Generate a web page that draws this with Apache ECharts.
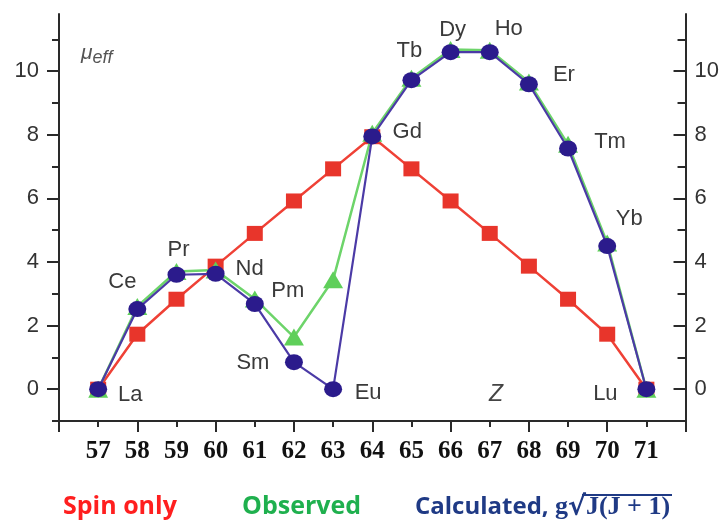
<!DOCTYPE html>
<html><head><meta charset="utf-8">
<script src="https://cdn.jsdelivr.net/npm/echarts@6/dist/echarts.min.js"></script>
<style>html,body{margin:0;padding:0;background:#fff}#c{width:722px;height:520px}</style>
</head><body><div id="c"></div>
<script>
// ---- data ----
const Z = [57, 58, 59, 60, 61, 62, 63, 64, 65, 66, 67, 68, 69, 70, 71];
const elements = ['La', 'Ce', 'Pr', 'Nd', 'Pm', 'Sm', 'Eu', 'Gd', 'Tb', 'Dy', 'Ho', 'Er', 'Tm', 'Yb', 'Lu'];
const spinOnly = [0, 1.73, 2.83, 3.87, 4.90, 5.92, 6.93, 7.94, 6.93, 5.92, 4.90, 3.87, 2.83, 1.73, 0];
const observed = [0, 2.6, 3.7, 3.75, 2.84, 1.64, 3.44, 8.05, 9.78, 10.68, 10.66, 9.66, 7.7, 4.6, 0];
const calculated = [0, 2.52, 3.60, 3.63, 2.68, 0.85, 0, 7.95, 9.72, 10.60, 10.60, 9.59, 7.57, 4.50, 0];
const yMajorTicks = [0, 2, 4, 6, 8, 10];
const yMinorTicksLeft = [-1, 1, 3, 5, 7, 9, 11];
const yMinorTicksRight = [1, 3, 5, 7, 9, 11];
const xTickLabels = [57, 58, 59, 60, 61, 62, 63, 64, 65, 66, 67, 68, 69, 70, 71];
const xMajorTicks = [56, 58, 60, 62, 64, 66, 68, 70, 72];
const xMinorTicks = [57, 59, 61, 63, 65, 67, 69, 71];
const seriesNames = ['Spin only', 'Observed', 'Calculated'];

// ---- layout / style config ----
const labelOffsets = [[32, 6], [-15, -27], [2, -25], [34, -5], [33, -13], [-41, 1], [35, 4], [35, -4],
  [-2, -29], [2, -22], [19, -23], [35, -9], [42, -7], [22, -27], [-41, 5]];
const SYM = [18, 16];
const Y_MIN = -1, Y_MAX = 11.8, X_MIN = 56, X_MAX = 72;
const axisColor = '#2a2a2a';
const navy = '#1f3a85';

const pairs = vals => Z.map((z, i) => [z, vals[i]]);

const chart = echarts.init(document.getElementById('c'), null, {renderer: 'canvas'});

const yBase = {type: 'value', min: Y_MIN, max: Y_MAX, splitLine: {show: false}};
const xBase = {type: 'value', min: X_MIN, max: X_MAX, splitLine: {show: false}};

const legendCommon = {
  top: 494, itemWidth: 0, itemHeight: 0, icon: 'none', selectedMode: false, padding: 0,
  textStyle: {fontFamily: 'Open Sans', fontWeight: 'bold', fontSize: 25}
};

chart.setOption({
  animation: false,
  backgroundColor: '#ffffff',
  grid: {left: 59, right: 36, top: 14, bottom: 99, containLabel: false},
  xAxis: [
    Object.assign({}, xBase, {
      position: 'bottom',
      axisLine: {show: true, onZero: false, lineStyle: {color: axisColor, width: 2}},
      axisTick: {show: true, customValues: xMajorTicks, length: 11, lineStyle: {color: axisColor, width: 2}},
      axisLabel: {show: true, customValues: xTickLabels, margin: 18,
        fontFamily: 'Liberation Serif', fontWeight: 'bold', fontSize: 25, color: '#111'}
    }),
    Object.assign({}, xBase, {
      position: 'bottom',
      axisLine: {show: false, onZero: false},
      axisTick: {show: true, customValues: xMinorTicks, length: 6, lineStyle: {color: axisColor, width: 2}},
      axisLabel: {show: false}
    })
  ],
  yAxis: [
    Object.assign({}, yBase, {
      position: 'left',
      axisLine: {show: true, onZero: false, lineStyle: {color: axisColor, width: 2}},
      axisTick: {show: true, customValues: yMajorTicks, length: 12, lineStyle: {color: axisColor, width: 2}},
      axisLabel: {show: true, customValues: yMajorTicks, margin: 20,
        fontFamily: 'Liberation Sans', fontSize: 22, color: '#333'}
    }),
    Object.assign({}, yBase, {
      position: 'left',
      axisLine: {show: false, onZero: false},
      axisTick: {show: true, customValues: yMinorTicksLeft, length: 7, lineStyle: {color: axisColor, width: 2}},
      axisLabel: {show: false}
    }),
    Object.assign({}, yBase, {
      position: 'right',
      axisLine: {show: true, onZero: false, lineStyle: {color: axisColor, width: 2}},
      axisTick: {show: true, inside: true, customValues: yMajorTicks, length: 12, lineStyle: {color: axisColor, width: 2}},
      axisLabel: {show: true, customValues: yMajorTicks, margin: 9,
        fontFamily: 'Liberation Sans', fontSize: 22, color: '#333'}
    }),
    Object.assign({}, yBase, {
      position: 'right',
      axisLine: {show: false, onZero: false},
      axisTick: {show: true, inside: true, customValues: yMinorTicksRight, length: 8, lineStyle: {color: axisColor, width: 2}},
      axisLabel: {show: false}
    })
  ],
  legend: [
    Object.assign({}, legendCommon, {left: 58, data: [{name: seriesNames[0], textStyle: {color: '#ff1f1f'}}]}),
    Object.assign({}, legendCommon, {left: 237, data: [{name: seriesNames[1], textStyle: {color: '#1fb04e'}}]}),
    Object.assign({}, legendCommon, {
      left: 410, data: [{name: seriesNames[2]}],
      formatter: () => '{a|Calculated, }{b|g}{r|√}{b|J(J + 1)}',
      textStyle: {
        fontFamily: 'Open Sans', fontWeight: 'bold', fontSize: 24, color: navy,
        rich: {
          a: {fontFamily: 'Open Sans', fontWeight: 'bold', fontSize: 24, color: navy},
          b: {fontFamily: 'Liberation Serif', fontWeight: 'bold', fontSize: 26, color: navy},
          r: {fontFamily: 'DejaVu Sans', fontSize: 27, color: navy}
        }
      }
    })
  ],
  graphic: [
    {type: 'text', left: 81, top: 43, style: {
      text: '{m|μ}{s|eff}',
      rich: {
        m: {fontFamily: 'Liberation Sans', fontStyle: 'italic', fontSize: 21, fill: '#555'},
        s: {fontFamily: 'Liberation Sans', fontStyle: 'italic', fontSize: 18, fill: '#555', padding: [8, 0, 0, 0]}
      }
    }},
    {type: 'text', left: 489, top: 383, style: {
      text: 'Z', fontFamily: 'Liberation Sans', fontStyle: 'italic', fontSize: 23, fill: '#444'
    }},
    {type: 'line', shape: {x1: 582, y1: 495, x2: 672, y2: 495}, style: {stroke: navy, lineWidth: 2}}
  ],
  series: [
    {
      name: seriesNames[0], type: 'line', xAxisIndex: 0, yAxisIndex: 0, z: 2,
      data: pairs(spinOnly), symbol: 'rect', symbolSize: [16, 15],
      itemStyle: {color: '#e8352b'}, lineStyle: {color: '#ef4136', width: 2.5}
    },
    {
      name: seriesNames[1], type: 'line', xAxisIndex: 0, yAxisIndex: 0, z: 3,
      data: pairs(observed), symbol: 'triangle', symbolSize: [20, 17],
      itemStyle: {color: '#5fcf5a'}, lineStyle: {color: '#6dd46a', width: 2.5}
    },
    {
      name: seriesNames[2], type: 'line', xAxisIndex: 0, yAxisIndex: 0, z: 4,
      data: Z.map((z, i) => ({
        value: [z, calculated[i]],
        label: {show: true, formatter: elements[i],
          position: [SYM[0] / 2 + labelOffsets[i][0], SYM[1] / 2 + labelOffsets[i][1]],
          align: 'center', verticalAlign: 'middle',
          fontFamily: 'Liberation Sans', fontSize: 22, color: '#3a3a3a'}
      })),
      symbol: 'circle', symbolSize: SYM,
      itemStyle: {color: '#2b1b8c'}, lineStyle: {color: '#4b3aa6', width: 2.2}
    }
  ]
});
</script></body></html>
